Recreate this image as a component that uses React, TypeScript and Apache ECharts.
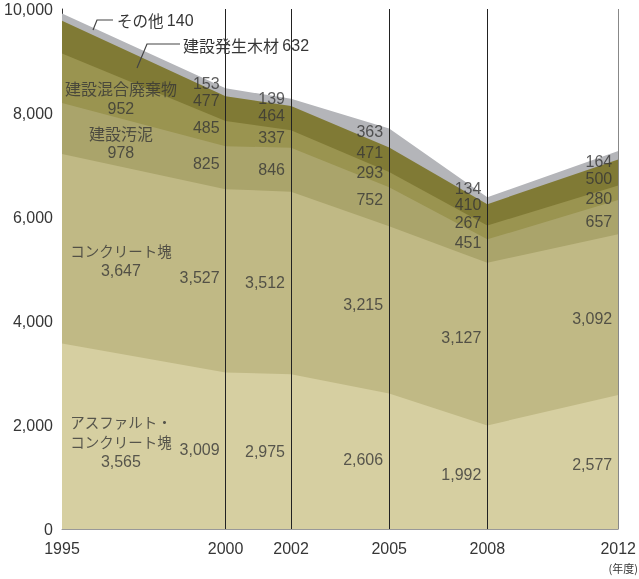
import React, { useEffect, useRef } from 'react';
import * as echarts from 'echarts';

const years = [1995, 2000, 2002, 2005, 2008, 2012];
const yTicks = [0, 2000, 4000, 6000, 8000, 10000];
const seriesNames = ['アスファルト・コンクリート塊', 'コンクリート塊', '建設汚泥', '建設混合廃棄物', '建設発生木材', 'その他'];
const asphalt = [3565, 3009, 2975, 2606, 1992, 2577];
const concrete = [3647, 3527, 3512, 3215, 3127, 3092];
const sludge = [978, 825, 846, 752, 451, 657];
const mixed = [952, 485, 337, 293, 267, 280];
const wood = [632, 477, 464, 471, 410, 500];
const other = [140, 153, 139, 363, 134, 164];
const firstYearLabels = [['アスファルト・', 'コンクリート塊'], ['コンクリート塊'], ['建設汚泥'], ['建設混合廃棄物']];
const calloutNames = ['建設発生木材', 'その他'];
const unitLabel = '(年度)';

const colors = ['#d6cfa1', '#c0b985', '#aaa46b', '#9a9450', '#807a35', '#b4b5b9'];
const NUM_FONT = "'Liberation Sans Narrow', 'Liberation Sans', sans-serif";
const JP_FONT = "'Noto Sans CJK JP', sans-serif";
const TXT = '#363636';

const layers = [asphalt, concrete, sludge, mixed, wood, other];
const fmt = (v: number) => v.toLocaleString('en-US');

// cumulative tops of each band
const cum: number[][] = layers.map((_, i) =>
  years.map((__, k) => layers.slice(0, i + 1).reduce((s, arr) => s + arr[k], 0))
);
const levelAt = (i: number, x: number) => {
  if (i < 0) return 0;
  for (let k = 0; k < years.length - 1; k++) {
    if (x >= years[k] && x <= years[k + 1]) {
      const t = (x - years[k]) / (years[k + 1] - years[k]);
      return cum[i][k] + t * (cum[i][k + 1] - cum[i][k]);
    }
  }
  return cum[i][years.length - 1];
};

const hasKana = (s: string) => /[\u30A0-\u30FF]/.test(s);

function buildLabels() {
  const items: any[] = [];
  for (let k = 1; k < years.length; k++) {
    const x = years[k] - 0.55;
    const mids = layers.map((_, i) => (levelAt(i - 1, x) + levelAt(i, x)) / 2);
    for (let i = 1; i < mids.length; i++) {
      if (mids[i] - mids[i - 1] < 320) mids[i] = mids[i - 1] + 320;
    }
    layers.forEach((arr, i) => {
      items.push({
        value: [years[k], mids[i]],
        label: { show: true, position: 'left', distance: 6, formatter: fmt(arr[k]) },
      });
    });
  }
  const x0 = 1996.8;
  firstYearLabels.forEach((names, i) => {
    const mid = (levelAt(i - 1, x0) + levelAt(i, x0)) / 2;
    const text =
      names.map((n) => `{${hasKana(n) ? 'n' : 'k'}|${n}}`).join('\n') + `\n{v|${fmt(layers[i][0])}}`;
    items.push({
      value: [x0, mid],
      label: { show: true, position: 'inside', align: 'center', verticalAlign: 'middle', formatter: text },
    });
  });
  return items;
}

export default function App() {
  const ref = useRef<HTMLDivElement>(null);
  useEffect(() => {
    if (!ref.current) return;
    const chart = echarts.init(ref.current, undefined, { renderer: 'svg' });
    // draw from the top band down, each filled to zero, so lower bands cover upper ones
    const order = layers.map((_, i) => layers.length - 1 - i);
    const areaSeries: any[] = order.map((i) => ({
      name: seriesNames[i],
      type: 'line',
      data: years.map((y, k) => [y, cum[i][k]]),
      showSymbol: false,
      symbol: 'none',
      lineStyle: { width: 0 },
      areaStyle: { color: colors[i], opacity: 1, origin: 'start' },
      itemStyle: { color: colors[i] },
      silent: true,
      z: 2,
    }));
    areaSeries.push({
      type: 'line',
      data: [],
      silent: true,
      z: 5,
      markLine: {
        silent: true,
        symbol: 'none',
        label: { show: false },
        lineStyle: { color: '#222', width: 1, type: 'solid' },
        data: years.slice(1).map((y, idx) => ({
          xAxis: y,
          lineStyle: { color: idx === years.length - 2 ? '#888' : '#222', width: 1, type: 'solid' },
        })),
      },
    });
    chart.setOption({
      animation: false,
      grid: { left: 62, right: 18, top: 9, bottom: 50, containLabel: false },
      xAxis: {
        type: 'value',
        min: years[0],
        max: years[years.length - 1],
        interval: 1,
        axisLine: { show: true, lineStyle: { color: '#999', width: 1 } },
        axisTick: { show: false },
        splitLine: { show: false },
        axisLabel: {
          color: TXT,
          fontSize: 16,
          fontFamily: "'Liberation Sans', sans-serif",
          margin: 11,
          formatter: (v: number) => (years.includes(v) ? String(v) : ''),
        },
      },
      yAxis: {
        type: 'value',
        min: yTicks[0],
        max: yTicks[yTicks.length - 1],
        interval: 2000,
        axisLine: { show: true, lineStyle: { color: '#333', width: 1 } },
        axisTick: { show: false },
        splitLine: { show: false },
        axisLabel: {
          color: TXT,
          fontSize: 16,
          fontFamily: "'Liberation Sans', sans-serif",
          margin: 9,
          formatter: (v: number) => fmt(v),
        },
      },
      series: [
        ...areaSeries,
        {
          type: 'scatter',
          symbolSize: 0,
          silent: true,
          z: 10,
          data: buildLabels(),
          label: {
            show: true,
            color: TXT,
            fontSize: 16,
            fontFamily: NUM_FONT,
            rich: {
              n: { fontSize: 14.5, fontFamily: JP_FONT, color: TXT, lineHeight: 20, align: 'center' },
              k: { fontSize: 16, fontFamily: JP_FONT, color: TXT, lineHeight: 20, align: 'center' },
              v: { fontSize: 16, fontFamily: NUM_FONT, color: TXT, lineHeight: 20, align: 'center' },
            },
          },
        },
      ],
      graphic: [
        {
          type: 'polyline',
          shape: { points: [[93, 30], [97, 20], [113, 20]] },
          style: { stroke: '#444', lineWidth: 1.2, fill: null },
          z: 20,
        },
        {
          type: 'text',
          x: 117,
          y: 20,
          style: {
            text: `{n|${calloutNames[1]}} {v|${fmt(other[0])}}`,
            verticalAlign: 'middle',
            rich: {
              n: { fontSize: 15.5, fontFamily: JP_FONT, fill: TXT },
              v: { fontSize: 16, fontFamily: NUM_FONT, fill: TXT },
            },
          },
          z: 20,
        },
        {
          type: 'polyline',
          shape: { points: [[137, 68], [147, 44], [180, 44]] },
          style: { stroke: '#444', lineWidth: 1.2, fill: null },
          z: 20,
        },
        {
          type: 'text',
          x: 183,
          y: 45,
          style: {
            text: `{n|${calloutNames[0]}} {v|${fmt(wood[0])}}`,
            verticalAlign: 'middle',
            rich: {
              n: { fontSize: 16, fontFamily: JP_FONT, fill: TXT },
              v: { fontSize: 16, fontFamily: NUM_FONT, fill: TXT },
            },
          },
          z: 20,
        },
        {
          type: 'text',
          x: 638,
          y: 568,
          style: {
            text: unitLabel,
            align: 'right',
            verticalAlign: 'middle',
            fontSize: 11,
            fontFamily: JP_FONT,
            fill: TXT,
          },
          z: 20,
        },
      ],
    });
    return () => chart.dispose();
  }, []);
  return <div ref={ref} style={{ position: 'fixed', left: 0, top: 0, width: 639, height: 579 }} />;
}
